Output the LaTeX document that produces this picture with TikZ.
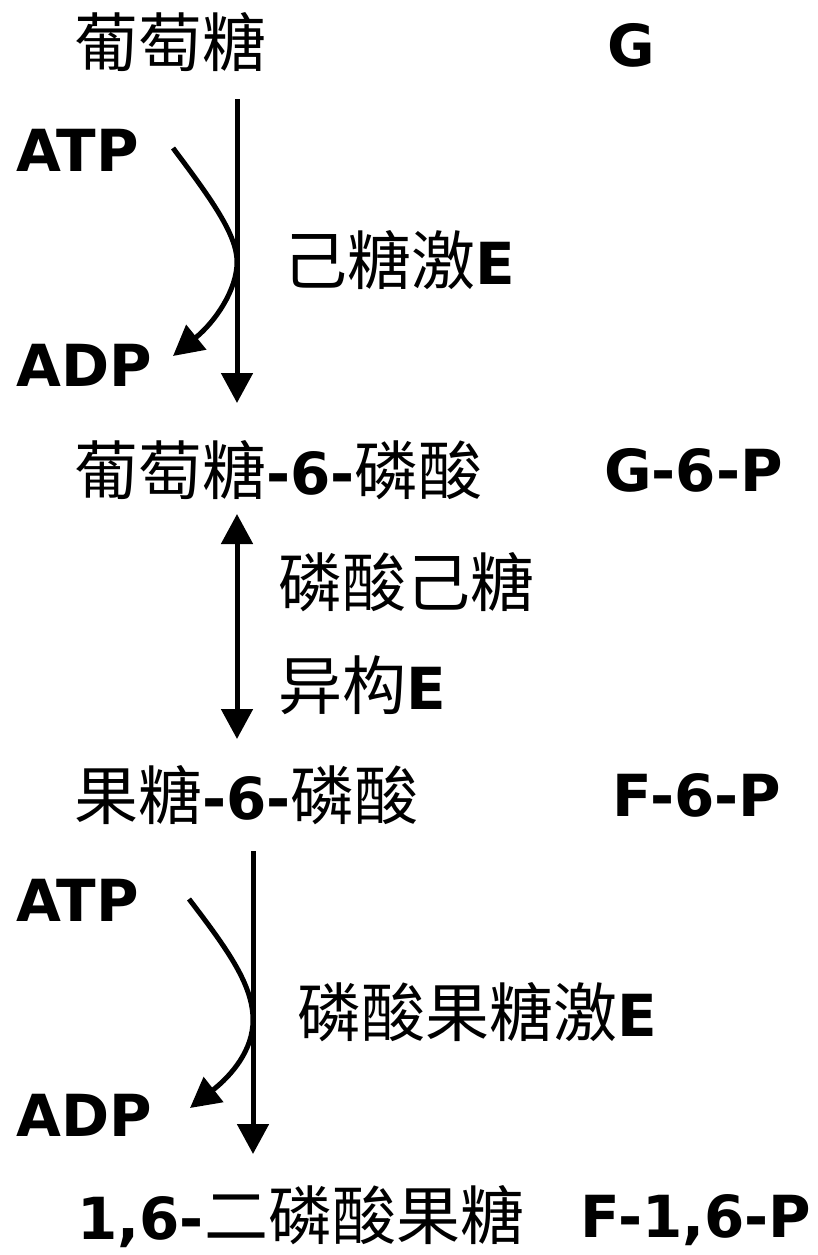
\documentclass[tikz,border=0pt]{standalone}
\usepackage{fontspec}
\newfontfamily\cjk{Noto Sans CJK SC}
\newfontfamily\lb{DejaVu Sans}
\usetikzlibrary{arrows.meta}
\newcommand{\latb}[1]{{\lb\bfseries\fontsize{58}{58}\selectfont #1}}
\begin{document}
\begin{tikzpicture}[x=1pt,y=-1pt,
  lab/.style={anchor=west,inner sep=0pt,font=\cjk\fontsize{64}{64}\selectfont},
  rt/.style={anchor=west,inner sep=0pt,font=\lb\bfseries\fontsize{58}{58}\selectfont},
  arr/.style={line width=5pt,-{Triangle[width=31pt,length=30pt]}},
  darr/.style={line width=5pt,{Triangle[width=31pt,length=30pt]}-{Triangle[width=31pt,length=30pt]}}]
\useasboundingbox (0,0) rectangle (818,1255);
% texts
\node[lab] (g) at (74,42) {葡萄糖};
\node[rt] (gs) at (607,45) {G};
\node[rt] (atp1) at (16,150) {ATP};
\node[rt] (adp1) at (16,365) {ADP};
\node[lab] (e1) at (283,260) {己糖激\latb{E}};
\node[lab] (g6p) at (74,470) {葡萄糖\latb{-6-}磷酸};
\node[rt] (g6ps) at (604,470) {G-6-P};
\node[lab] (e2a) at (278,582) {磷酸己糖};
\node[lab] (e2b) at (278,685) {异构\latb{E}};
\node[lab] (f6p) at (74,795) {果糖\latb{-6-}磷酸};
\node[rt] (f6ps) at (612,795) {F-6-P};
\node[rt] (atp2) at (16,900) {ATP};
\node[rt] (adp2) at (16,1115) {ADP};
\node[lab] (e3) at (297,1012) {磷酸果糖激\latb{E}};
\node[lab] (fbp) at (77,1217) {\latb{1,6-}二磷酸果糖};
\node[rt] (fbps) at (580,1220) {F-1,6-P};
% arrow end points
\coordinate (a1s) at (237,99);
\coordinate (a1e) at (237,403);
\coordinate (a2s) at (237,514);
\coordinate (a2e) at (237,739);
\coordinate (a3s) at (253,851);
\coordinate (a3e) at (253,1154);
\coordinate (c1s) at (173,148);
\coordinate (c1m) at (237,262);
\coordinate (c1e) at (173,356);
\coordinate (c2s) at (189,899);
\coordinate (c2m) at (253,1020);
\coordinate (c2e) at (190,1108);
% arrows
\draw[arr] (a1s) -- (a1e);
\draw[darr] (a2s) -- (a2e);
\draw[arr] (a3s) -- (a3e);
\draw[arr] (c1s) .. controls (212,200) and (237,235) .. (c1m) .. controls (237,290) and (215,322) .. (c1e);
\draw[arr] (c2s) .. controls (228,950) and (253,985) .. (c2m) .. controls (253,1050) and (232,1075) .. (c2e);
\end{tikzpicture}
\end{document}
